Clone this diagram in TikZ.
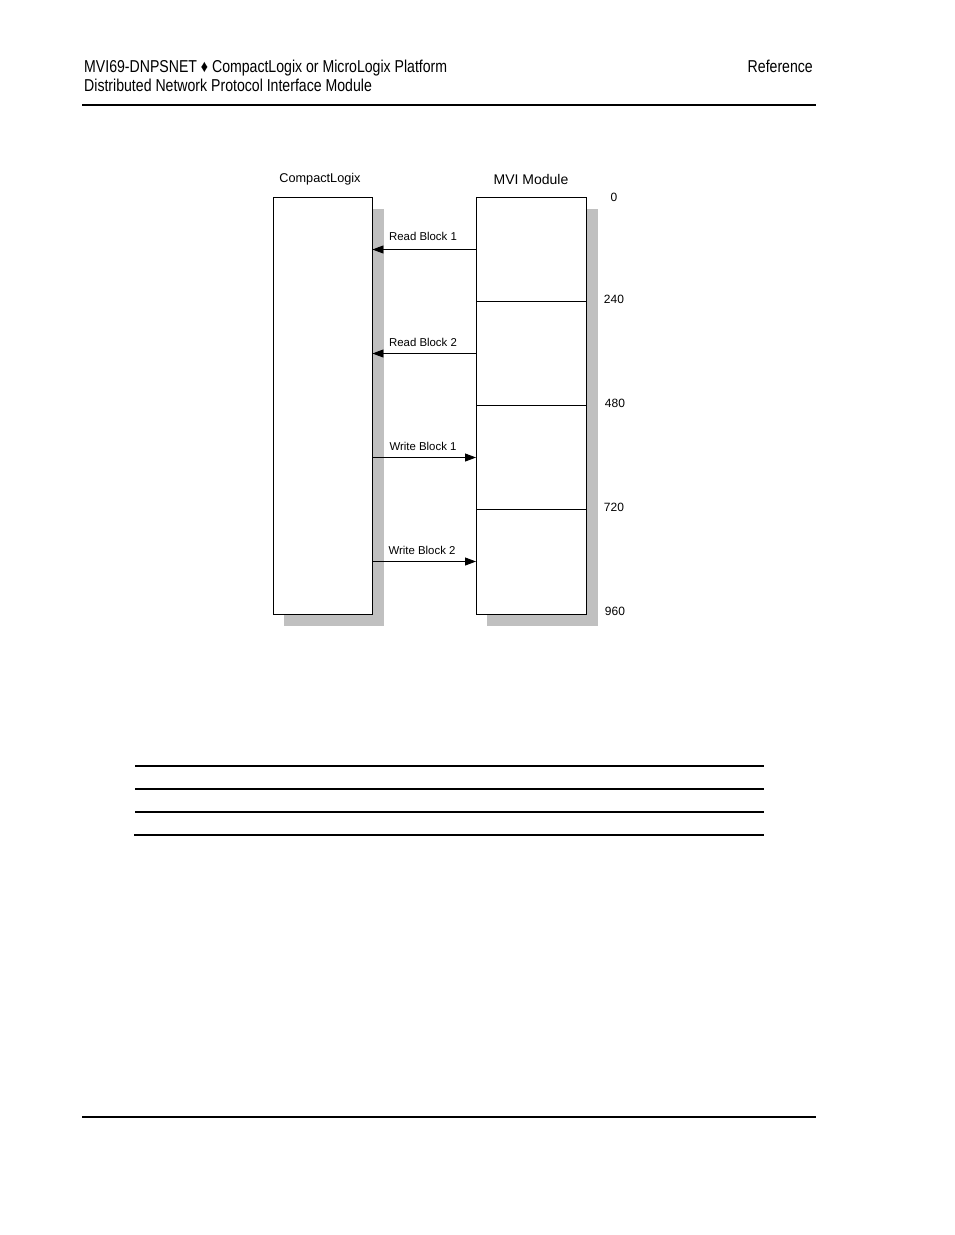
\documentclass[tikz,border=0pt]{standalone}
\usepackage{fontspec}
\setmainfont{Liberation Sans}
\newfontfamily\narrowfont[FakeStretch=0.82]{Liberation Sans}
\usetikzlibrary{arrows.meta}
\definecolor{shadowgray}{HTML}{C0C0C0}
\begin{document}
\begin{tikzpicture}[x=1pt,y=-1pt,
  hdr/.style={font=\narrowfont\fontsize{17.2}{20}\selectfont, inner sep=0pt, anchor=base west},
  lbl/.style={font=\fontsize{11.4}{13}\selectfont, inner sep=0pt, anchor=base},
  num/.style={font=\fontsize{12}{14}\selectfont, inner sep=0pt, anchor=base},
  blockbox/.style={draw=black, line width=0.9pt, fill=white, inner sep=0pt, rectangle},
  rule/.style={line width=1.3pt},
  flow/.style={line width=0.9pt, -{Triangle[length=11pt,width=8pt]}}
]
\useasboundingbox (0,0) rectangle (954,1235);
\fill[white] (0,0) rectangle (954,1235);
% header
\node[hdr] (h1) at (84,72) {MVI69-DNPSNET \char"2666{} CompactLogix or MicroLogix Platform};
\node[hdr] (h2) at (84,91) {Distributed Network Protocol Interface Module};
\node[hdr, anchor=base east] (h3) at (813,72) {Reference};
\draw[rule] (82,105) -- (816,105);
% shadows
\fill[shadowgray] (284,209) rectangle (384,626);
\fill[shadowgray] (487,209) rectangle (598,626);
% boxes
\node[blockbox, minimum width=99pt, minimum height=417pt] (cl) at (322.5,405.5) {};
\node[blockbox, minimum width=110pt, minimum height=417pt] (mvi) at (531,405.5) {};
% divisions
\coordinate (d1) at (476,301);
\coordinate (d2) at (476,405);
\coordinate (d3) at (476,509);
\draw[line width=0.7pt] (d1) -- (mvi.east |- d1);
\draw[line width=0.9pt] (d2) -- (mvi.east |- d2);
\draw[line width=0.7pt] (d3) -- (mvi.east |- d3);
% titles
\node[font=\fontsize{12.7}{14}\selectfont, inner sep=0pt, anchor=base] (tcl) at (320,182.5) {CompactLogix};
\node[font=\fontsize{14}{16}\selectfont, inner sep=0pt, anchor=base] (tmvi) at (531,184) {MVI Module};
% arrows
\coordinate (r1) at (476,249.5);
\coordinate (r2) at (476,353.5);
\coordinate (w1) at (476,457.5);
\coordinate (w2) at (476,561.5);
\draw[flow] (r1) -- (cl.east |- r1);
\draw[flow] (r2) -- (cl.east |- r2);
\draw[flow] (cl.east |- w1) -- (w1);
\draw[flow] (cl.east |- w2) -- (w2);
\node[lbl] (lr1) at (423,240) {Read Block 1};
\node[lbl] (lr2) at (423,346) {Read Block 2};
\node[lbl] (lw1) at (423,450) {Write Block 1};
\node[lbl] (lw2) at (422,554) {Write Block 2};
% numbers
\node[num] (n0) at (614,201) {0};
\node[num] (n240) at (614,303) {240};
\node[num] (n480) at (615,407) {480};
\node[num] (n720) at (614,511) {720};
\node[num] (n960) at (615,615) {960};
% lower rules
\draw[rule] (135,766) -- (764,766);
\draw[rule] (135,789) -- (764,789);
\draw[rule] (135,812) -- (764,812);
\draw[rule] (134,835) -- (764,835);
% footer rule
\draw[rule] (82,1117) -- (816,1117);
\end{tikzpicture}
\end{document}
